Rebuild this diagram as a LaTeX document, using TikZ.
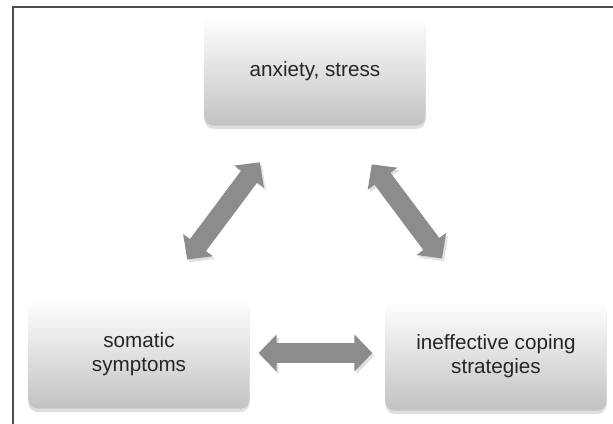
\documentclass[tikz,border=0pt]{standalone}
\usepackage{fontspec}
\setmainfont{Liberation Sans}
\usetikzlibrary{shadows,arrows.meta}

\begin{document}
\begin{tikzpicture}[x=0.75pt,y=-0.75pt,
    factor/.style={rounded corners=7pt, minimum width=166pt, minimum height=82pt,
        top color=white, bottom color=black!24, align=center, text=black!85,
        font=\fontsize{15.5}{18}\selectfont,
        drop shadow={opacity=0.25, shadow xshift=0pt, shadow yshift=-2.5pt}},
    link/.style={draw=black!45, line width=15pt,
        {Triangle[width=27pt,length=13.5pt]}-{Triangle[width=27pt,length=13.5pt]},
        preaction={draw=black!12, transform canvas={shift={(1.5pt,-2pt)}}}}]
    \useasboundingbox (0,0) rectangle (613,424);
    \draw[black!70, line width=1.2pt] (13,424) -- (13,7) -- (613,7);

    \node[factor] (stress) at (315,71) {anxiety, stress};
    \node[factor] (somatic) at (139,354) {somatic\\symptoms};
    \node[factor] (coping) at (496,356) {ineffective coping\\strategies};

    \draw[link, shorten <=34pt, shorten >=37pt] ([xshift=-21pt]stress.south) -- ([xshift=14pt]somatic.north);
    \draw[link, shorten <=36pt, shorten >=40pt] ([xshift=21pt]stress.south) -- ([xshift=-16.5pt]coping.north);
    \draw[link, shorten <=6.5pt, shorten >=9.5pt] ([yshift=0.75pt]somatic.east) -- ([yshift=0.75pt]somatic.east -| coping.west);
\end{tikzpicture}
\end{document}
